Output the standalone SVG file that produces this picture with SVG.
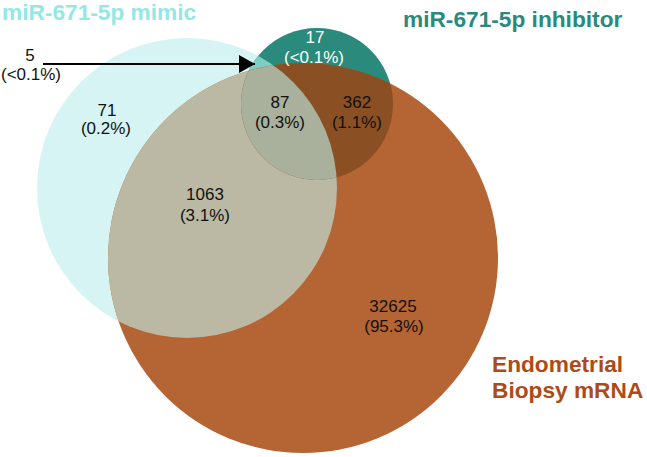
<svg xmlns="http://www.w3.org/2000/svg" width="647" height="457" viewBox="0 0 647 457">
<style>
.num{font-family:"Liberation Sans",Arial,sans-serif;font-size:17px;fill:#111;text-anchor:middle}
.wh{fill:#fff}
.ttl{font-family:"Liberation Sans",Arial,sans-serif;font-size:22.7px;font-weight:bold}
</style>
<defs>
<clipPath id="cMimic"><circle cx="187" cy="188" r="150"/></clipPath>
<clipPath id="cInh"><circle cx="317" cy="104" r="76"/></clipPath>
<marker id="arrB" viewBox="0 0 16 18" refX="16" refY="9" markerWidth="16" markerHeight="18" markerUnits="userSpaceOnUse" orient="auto">
<path d="M0,0 L16,9 L0,18 Z" fill="#000"/>
</marker>
</defs>
<g id="sets">
<g id="mimic"><circle cx="187" cy="188" r="150" fill="#d6f4f4"/></g>
<g id="inhibitor"><circle cx="317" cy="104" r="76" fill="#2a8a7b"/></g>
<g id="endometrial"><circle cx="303" cy="258" r="195" fill="#b56433"/></g>
<g id="mimic-inhibitor" clip-path="url(#cMimic)"><circle cx="317" cy="104" r="76" fill="#7dcdc2"/></g>
<g id="mimic-endometrial" clip-path="url(#cMimic)"><circle cx="303" cy="258" r="195" fill="#bbb9a4"/></g>
<g id="inhibitor-endometrial" clip-path="url(#cInh)"><circle cx="303" cy="258" r="195" fill="#8a4f23"/></g>
<g id="all-three" clip-path="url(#cMimic)"><g clip-path="url(#cInh)"><circle cx="303" cy="258" r="195" fill="#a9b09c"/></g></g>
</g>
<g id="connectors">
<line x1="43" y1="64" x2="255" y2="64" stroke="#000" stroke-width="2" marker-end="url(#arrB)"/>
</g>
<g id="labels">
<text class="ttl" x="2" y="20" fill="#92e8e5">miR-671-5p mimic</text>
<text class="ttl" x="403" y="27" fill="#2a8a7b">miR-671-5p inhibitor</text>
<text class="ttl" x="492" y="372" fill="#ad4a16">Endometrial</text>
<text class="ttl" x="492" y="398" fill="#ad4a16">Biopsy mRNA</text>
<text class="num" x="30" y="61">5</text>
<text class="num" x="31" y="80">(&lt;0.1%)</text>
<text class="num wh" x="315" y="43">17</text>
<text class="num wh" x="314" y="63">(&lt;0.1%)</text>
<text class="num" x="107" y="116">71</text>
<text class="num" x="106" y="134">(0.2%)</text>
<text class="num" x="280" y="108">87</text>
<text class="num" x="280" y="128">(0.3%)</text>
<text class="num" x="357" y="108">362</text>
<text class="num" x="357" y="128">(1.1%)</text>
<text class="num" x="205" y="200">1063</text>
<text class="num" x="205" y="221">(3.1%)</text>
<text class="num" x="393" y="312">32625</text>
<text class="num" x="394" y="332">(95.3%)</text>
</g>
</svg>
